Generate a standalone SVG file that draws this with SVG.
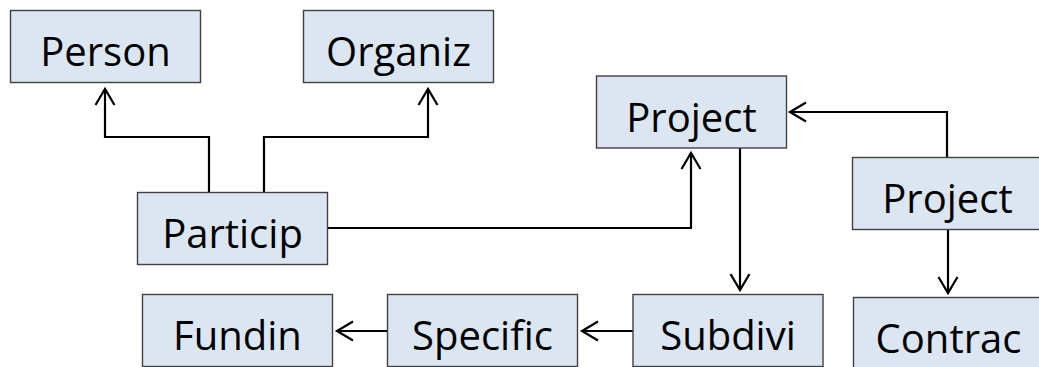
<svg xmlns="http://www.w3.org/2000/svg" width="1039" height="367" viewBox="0 0 1039 367">
<defs>
<style>
.box{fill:#dce6f2;stroke:#404040;stroke-width:1.4}
.lbl{font-family:"Open Sans","Liberation Sans",sans-serif;font-size:40px;fill:#000;text-anchor:middle}
.conn{fill:none;stroke:#000;stroke-width:2.2;marker-end:url(#arr)}
</style>
<marker id="arr" markerUnits="userSpaceOnUse" markerWidth="24" markerHeight="24" viewBox="-20 -12 24 24" refX="0" refY="0" orient="auto">
<path d="M-16,-9.5 L0,0 L-16,9.5" fill="none" stroke="#000" stroke-width="2.2"/>
</marker>
</defs>
<rect width="1039" height="367" fill="#fff"/>
<g id="connectors">
<path class="conn" d="M209,192 V137 H105 V89"/>
<path class="conn" d="M264,192 V137 H428 V89"/>
<path class="conn" d="M328,228 H691 V153"/>
<path class="conn" d="M947,157 V112 H790"/>
<path class="conn" d="M740,148 V290"/>
<path class="conn" d="M948,230 V293"/>
<path class="conn" d="M633,331 H582"/>
<path class="conn" d="M387,331 H337"/>
</g>
<g id="person"><rect class="box" x="10.5" y="10.5" width="190" height="72"/><text class="lbl" x="105.5" y="66">Person</text></g>
<g id="organiz"><rect class="box" x="303.5" y="10.5" width="190" height="72"/><text class="lbl" x="398.5" y="66">Organiz</text></g>
<g id="project"><rect class="box" x="596.5" y="76" width="190" height="72"/><text class="lbl" x="691.5" y="132">Project</text></g>
<g id="particip"><rect class="box" x="137.5" y="192.5" width="190" height="72"/><text class="lbl" x="232.5" y="248">Particip</text></g>
<g id="project2"><rect class="box" x="852.5" y="157.5" width="190" height="72"/><text class="lbl" x="947.5" y="213">Project</text></g>
<g id="fundin"><rect class="box" x="142.5" y="294.5" width="190" height="72"/><text class="lbl" x="237.5" y="350">Fundin</text></g>
<g id="specific"><rect class="box" x="387.5" y="294.5" width="190" height="72"/><text class="lbl" x="482.5" y="350">Specific</text></g>
<g id="subdivi"><rect class="box" x="633" y="294.5" width="190" height="72"/><text class="lbl" x="728" y="350">Subdivi</text></g>
<g id="contrac"><rect class="box" x="853.5" y="297.5" width="190" height="72"/><text class="lbl" x="948.5" y="353">Contrac</text></g>
</svg>
